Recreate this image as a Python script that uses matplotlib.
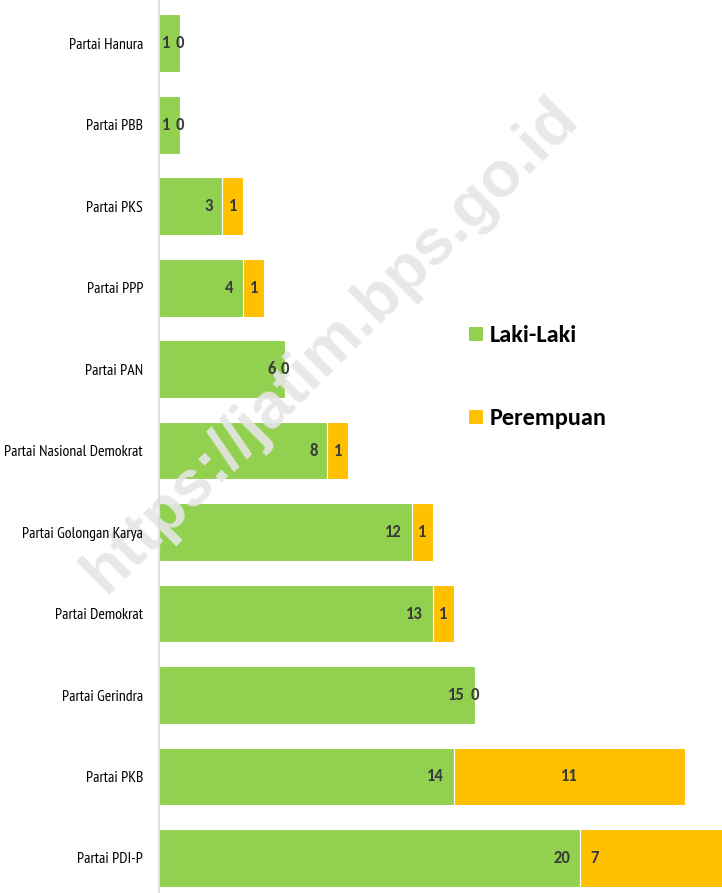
import matplotlib
matplotlib.use('Agg')
import matplotlib.pyplot as plt
import numpy as np

# data (top to bottom as in the picture)
partai = ['Partai Hanura', 'Partai PBB', 'Partai PKS', 'Partai PPP', 'Partai PAN',
          'Partai Nasional Demokrat', 'Partai Golongan Karya', 'Partai Demokrat',
          'Partai Gerindra', 'Partai PKB', 'Partai PDI-P']
laki = [1, 1, 3, 4, 6, 8, 12, 13, 15, 14, 20]
perempuan = [0, 0, 1, 1, 0, 1, 1, 1, 0, 11, 7]

green = '#92D050'
orange = '#FFC000'
txt_col = '#3a3a3a'

cat_font = ['PT Sans Narrow', 'DejaVu Sans']
val_font = ['Carlito', 'DejaVu Sans']

fig = plt.figure(figsize=(7.22, 8.93), dpi=100)
ax = fig.add_axes([159 / 722, 0, 1 - 159 / 722, 1])

n = len(partai)
y = np.arange(n)[::-1]
ax.barh(y, laki, height=0.71, color=green, edgecolor='white', linewidth=0.8, label='Laki-Laki')
ax.barh(y, perempuan, left=laki, height=0.71, color=orange, edgecolor='white', linewidth=0.8, label='Perempuan')

xmax = 26.75
ax.set_xlim(0, xmax)
ax.set_ylim(-0.43, n - 1 + 0.53)

# value labels
kw = dict(va='center', fontsize=12, fontweight='bold', color=txt_col, family=val_font, zorder=4)
for yi, l, p in zip(y, laki, perempuan):
    ax.text(l - 0.45, yi, str(l), ha='right', **kw)
    if p == 0:
        ax.text(l, yi, '0', ha='center', **kw)
    elif l + p > xmax:
        ax.text(l + 0.5, yi, str(p), ha='left', **kw)
    else:
        ax.text(l + p / 2, yi, str(p), ha='center', **kw)

ax.set_yticks(y)
ax.set_yticklabels(partai, family=cat_font, fontsize=11.3, color='black')
ax.tick_params(axis='y', length=0, pad=11.5)
ax.set_xticks([])
for s in ['top', 'right', 'bottom']:
    ax.spines[s].set_visible(False)
ax.spines['left'].set_color('#d9d9d9')
ax.spines['left'].set_linewidth(1.2)

# watermark, above the bars but below the labels
ax.text(331 / 722, 1 - 345 / 893, 'https://jatim.bps.go.id', rotation=45,
        transform=fig.transFigure, ha='center', va='center', fontsize=46.5,
        fontweight='bold', family=['Liberation Sans', 'DejaVu Sans'],
        color='#e6e6e6', alpha=0.9, zorder=1.1, clip_on=False)

leg = ax.legend(loc='upper left', bbox_to_anchor=(456 / 722, 1 - 313 / 893),
                bbox_transform=fig.transFigure, frameon=False,
                prop={'family': val_font, 'weight': 'bold', 'size': 17.5},
                handlelength=0.6, handleheight=0.6, handletextpad=0.3,
                labelspacing=2.55, borderpad=0)

fig.savefig('out.png', dpi=100)
